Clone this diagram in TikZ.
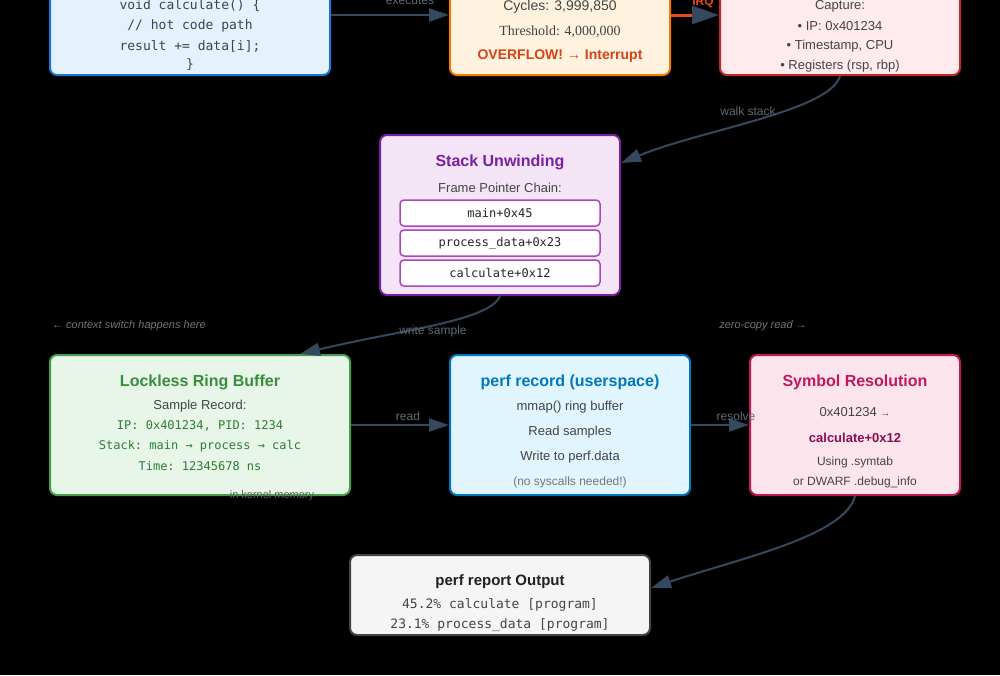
\documentclass[tikz,border=0pt]{standalone}
\usepackage{fontspec}
\setmainfont{Liberation Sans}
\setmonofont{DejaVu Sans Mono}
\newfontfamily\serifx{Liberation Serif}
\usetikzlibrary{arrows.meta,calc}
\newcommand\pxs[1]{\fontsize{#1}{#1}\selectfont}
\definecolor{codef}{HTML}{E3F2FD}\definecolor{coded}{HTML}{1976D2}
\definecolor{ctrf}{HTML}{FFF3E0}\definecolor{ctrd}{HTML}{F57C00}
\definecolor{intf}{HTML}{FFEBEE}\definecolor{intd}{HTML}{C62828}
\definecolor{stkf}{HTML}{F3E5F5}\definecolor{stkd}{HTML}{7B1FA2}\definecolor{stkin}{HTML}{AB47BC}
\definecolor{ringf}{HTML}{E8F5E9}\definecolor{ringd}{HTML}{43A047}\definecolor{ringt}{HTML}{388E3C}\definecolor{ringm}{HTML}{2E7D32}
\definecolor{perff}{HTML}{E1F5FE}\definecolor{perfd}{HTML}{0277BD}
\definecolor{symf}{HTML}{FCE4EC}\definecolor{symd}{HTML}{C2185B}\definecolor{symb}{HTML}{880E4F}
\definecolor{outf}{HTML}{F5F5F5}\definecolor{outd}{HTML}{424242}\definecolor{outt}{HTML}{212121}
\definecolor{conn}{HTML}{34495E}
\definecolor{irq}{HTML}{E64A19}
\definecolor{ovf}{HTML}{D84315}
\definecolor{bodytxt}{HTML}{444444}
\definecolor{codetxt}{HTML}{37474F}
\definecolor{lblgray}{HTML}{5F6B78}
\definecolor{notegray}{HTML}{757575}
\begin{document}
\begin{tikzpicture}[x=1pt,y=-1pt,
  box/.style={draw, line width=2pt, rounded corners=7pt, inner sep=0pt},
  txt/.style={inner sep=0pt, anchor=center, yshift=-1.5pt, text=bodytxt, font=\pxs{13}},
  ttl/.style={inner sep=0pt, anchor=center, yshift=-2pt, font=\bfseries\pxs{16}},
  mono/.style={inner sep=0pt, anchor=center, font=\ttfamily\pxs{12}},
  lbl/.style={inner sep=0pt, text=lblgray, font=\pxs{12}},
  note/.style={inner sep=0pt, text=notegray, font=\itshape\pxs{11}},
  conn/.style={draw=conn, line width=2pt, -{Triangle[length=20pt,width=13pt]}},
  frame/.style={box, draw=stkin, fill=white, line width=1.5pt, rounded corners=4pt,
    minimum width=200pt, minimum height=26pt, font=\ttfamily\pxs{12}, text=black!85},
]
\useasboundingbox (0,0) rectangle (1000,675);
\fill[black] (0,0) rectangle (1000,675);
\clip (0,0) rectangle (1000,675);

% ---- top row
\node[box, draw=coded, fill=codef, minimum width=280pt, minimum height=120pt] (code) at (190,15) {};
\node[mono, font=\ttfamily\pxs{13}, text=codetxt] (c1) at (190,6) {void calculate() \{};
\node[mono, font=\ttfamily\pxs{13}, text=codetxt] (c2) at (190,26) {// hot code path};
\node[mono, font=\ttfamily\pxs{13}, text=codetxt] (c3) at (190,46) {result += data[i];};
\node[mono, font=\ttfamily\pxs{13}, text=codetxt] (c4) at (190,65) {\}};

\node[box, draw=ctrd, fill=ctrf, minimum width=220pt, minimum height=120pt] (ctr) at (560,15) {};
\node[txt, font=\pxs{14}] (k1) at (560,5) {Cycles: 3,999,850};
\node[txt, font=\serifx\pxs{14}] (k2) at (560,30) {Threshold: 4,000,000};
\node[txt, font=\bfseries\pxs{14}, text=ovf] (k3) at (560,55) {OVERFLOW! → Interrupt};

\node[box, draw=intd, fill=intf, minimum width=240pt, minimum height=120pt] (intr) at (840,15) {};
\node[txt] (i1) at (840,5) {Capture:};
\node[txt] (i2) at (840,25) {• IP: 0x401234};
\node[txt] (i3) at (840,45) {• Timestamp, CPU};
\node[txt] (i4) at (840,65) {• Registers (rsp, rbp)};

% ---- stack
\node[box, draw=stkd, fill=stkf, minimum width=240pt, minimum height=160pt] (stack) at (500,215) {};
\node[ttl, text=stkd] (st) at (500,160) {Stack Unwinding};
\node[txt] (sf) at (500,186) {Frame Pointer Chain:};
\node[frame] (f1) at (500,213) {main+0x45};
\node[frame] (f2) at (500,243) {process\_data+0x23};
\node[frame] (f3) at (500,273) {calculate+0x12};

% ---- middle row
\node[box, draw=ringd, fill=ringf, minimum width=300pt, minimum height=140pt] (ring) at (200,425) {};
\node[ttl, text=ringt] (rt) at (200,380) {Lockless Ring Buffer};
\node[txt] (r1) at (200,405) {Sample Record:};
\node[mono, text=ringm] (r2) at (200,426) {IP: 0x401234, PID: 1234};
\node[mono, text=ringm] (r3) at (200,446) {Stack: main → process → calc};
\node[mono, text=ringm] (r4) at (200,466) {Time: 12345678 ns};

\node[box, draw=perfd, fill=perff, minimum width=240pt, minimum height=140pt] (perf) at (570,425) {};
\node[ttl, text=perfd] (pt) at (570,380) {perf record (userspace)};
\node[txt] (p1) at (570,406) {mmap() ring buffer};
\node[txt] (p2) at (570,431) {Read samples};
\node[txt] (p3) at (570,456) {Write to perf.data};
\node[txt, font=\pxs{12}, text=notegray] (p4) at (570,481) {(no syscalls needed!)};

\node[box, draw=symd, fill=symf, minimum width=210pt, minimum height=140pt] (sym) at (855,425) {};
\node[ttl, text=symd] (yt) at (855,380) {Symbol Resolution};
\node[txt] (y1) at (855,411) {0x401234 {\pxs{10}→}};
\node[txt, font=\bfseries\pxs{13}, text=symb] (y2) at (855,436) {calculate+0x12};
\node[txt, font=\pxs{12}] (y3) at (855,461) {Using .symtab};
\node[txt, font=\pxs{12}] (y4) at (855,481) {or DWARF .debug\_info};

% ---- output
\node[box, draw=outd, fill=outf, minimum width=300pt, minimum height=80pt] (out) at (500,595) {};
\node[ttl, font=\bfseries\pxs{15}, text=outt] (ot) at (500,580) {perf report Output};
\node[mono, font=\ttfamily\pxs{13}, text=bodytxt] (o1) at (500,605) {45.2\% calculate [program]};
\node[mono, font=\ttfamily\pxs{13}, text=bodytxt] (o2) at (500,625) {23.1\% process\_data [program]};

% ---- connectors
\draw[conn] (code.east) -- (ctr.west);
\draw[line width=3pt, draw=irq, -{Triangle[length=27pt,width=18pt,color=conn]}] (ctr.east) -- (intr.west);
\draw[conn] (intr.south) .. controls +(-10,35) and +(80,-33) .. ([yshift=52pt]stack.east);
\draw[conn] (stack.south) .. controls +(-10,25) and +(100,-24) .. ([xshift=100pt]ring.north);
\draw[conn] (ring.east) -- (perf.west);
\draw[conn] (perf.east) -- (sym.west);
\draw[conn] (sym.south) .. controls +(-10,40) and +(90,-30) .. ([yshift=7pt]out.east);

% ---- labels
\node[lbl] (lexec) at (410,1) {executes};
\node[lbl, font=\bfseries\pxs{12}, text=irq] (lirq) at (703,2) {IRQ};
\node[lbl] (lwalk) at (748,111) {walk stack};
\node[lbl] (lwrite) at (433,331) {write sample};
\node[lbl] (lread) at (408,416) {read};
\node[lbl] (lres) at (736,416) {resolve};
\node[lbl, font=\pxs{11}, text=notegray!80!black] (lmem) at (272,496) {in kernel memory};
\node[note, anchor=west] (lctx) at (52,326) {← context switch happens here};
\node[note] (lzero) at (763,326) {zero-copy read →};
\end{tikzpicture}
\end{document}
